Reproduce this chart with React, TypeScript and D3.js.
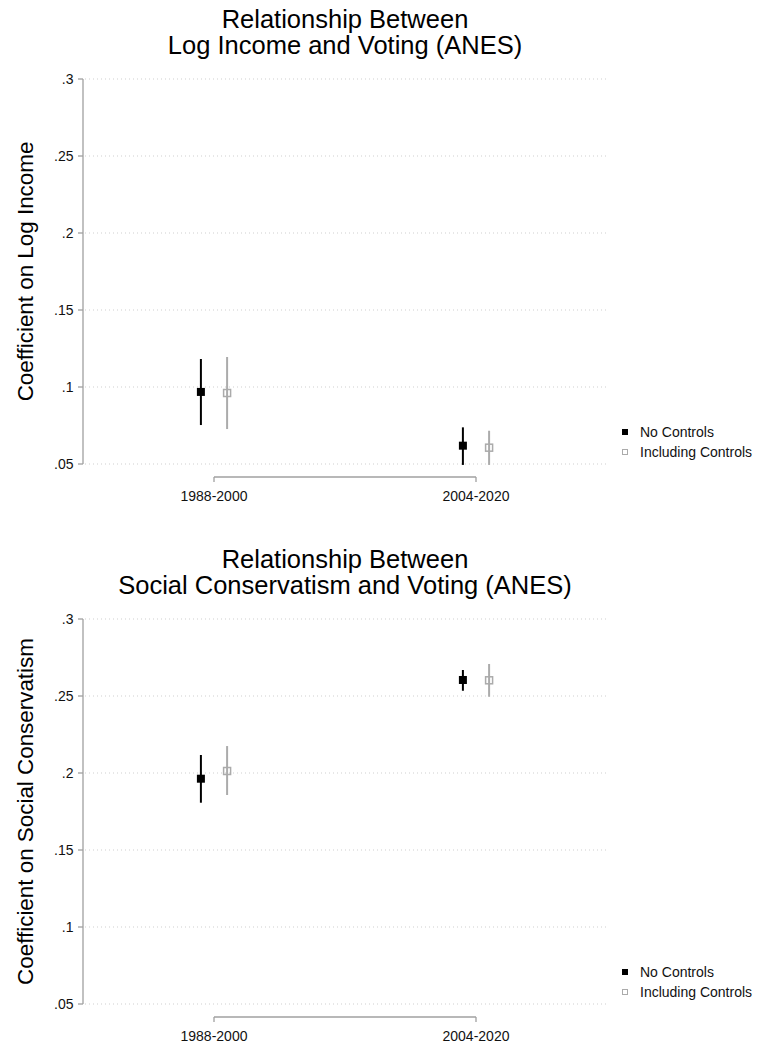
import React from 'react';
import * as d3 from 'd3';

const periods = ['1988-2000', '2004-2020'];
const seriesNames = ['No Controls', 'Including Controls'];
const yTicks = [0.05, 0.1, 0.15, 0.2, 0.25, 0.3];
const yTickLabels = ['.05', '.1', '.15', '.2', '.25', '.3'];

// Panel 1: Log income
const incomeNoCtrl = [0.0968, 0.0619];
const incomeNoCtrlLo = [0.0753, 0.0494];
const incomeNoCtrlHi = [0.1182, 0.0738];
const incomeCtrl = [0.0961, 0.0606];
const incomeCtrlLo = [0.0727, 0.0494];
const incomeCtrlHi = [0.1195, 0.0716];

// Panel 2: Social conservatism
const socialNoCtrl = [0.1963, 0.2604];
const socialNoCtrlLo = [0.1807, 0.2534];
const socialNoCtrlHi = [0.2117, 0.2669];
const socialCtrl = [0.2013, 0.2602];
const socialCtrlLo = [0.1857, 0.2495];
const socialCtrlHi = [0.2175, 0.2708];

const FONT = "'Liberation Sans', Arial, sans-serif";
const BLACK = '#000000';
const GRAY = '#ababab';

type Series = { est: number[]; lo: number[]; hi: number[] };

function Panel(props: {
  top: number;
  titleLines: string[];
  yLabel: string;
  series: Series[];
}) {
  const { top, titleLines, yLabel, series } = props;
  const x = d3.scaleLinear().domain([0.5, 2.5]).range([83, 607]);
  const y = d3.scaleLinear().domain([0.05, 0.3]).range([464, 79]);
  const offsets = [-0.05, 0.05];
  const colors = [BLACK, GRAY];
  const axisY = 477;
  const cx = (83 + 607) / 2;
  return (
    <g transform={`translate(0,${top})`}>
      {titleLines.map((t, i) => (
        <text key={i} x={cx} y={28 + i * 26} textAnchor="middle" fontSize={25.5} fontFamily={FONT} fill="#000">
          {t}
        </text>
      ))}
      {/* gridlines */}
      {yTicks.map((v, i) => (
        <line key={'g' + i} x1={85} x2={607} y1={y(v)} y2={y(v)} stroke="#cfcfcf" strokeWidth={1} strokeDasharray="1 3" />
      ))}
      {/* y axis */}
      <line x1={83} x2={83} y1={y(0.3)} y2={y(0.05)} stroke="#a0a0a0" strokeWidth={1.3} />
      {yTicks.map((v, i) => (
        <g key={'t' + i}>
          <line x1={78} x2={83} y1={y(v)} y2={y(v)} stroke="#a0a0a0" strokeWidth={1.3} />
          <text x={73.5} y={y(v) + 5} textAnchor="end" fontSize={14} fontFamily={FONT} fill="#111">
            {yTickLabels[i]}
          </text>
        </g>
      ))}
      <text
        transform={`translate(33,${(y(0.3) + y(0.05)) / 2}) rotate(-90)`}
        textAnchor="middle"
        fontSize={22.4}
        fontFamily={FONT}
        fill="#000"
      >
        {yLabel}
      </text>
      {/* x axis bracket */}
      <line x1={x(1)} x2={x(2)} y1={axisY} y2={axisY} stroke="#a0a0a0" strokeWidth={1.3} />
      {periods.map((p, i) => (
        <g key={'x' + i}>
          <line x1={x(i + 1)} x2={x(i + 1)} y1={axisY} y2={axisY + 5} stroke="#a0a0a0" strokeWidth={1.3} />
          <text x={x(i + 1)} y={axisY + 24} textAnchor="middle" fontSize={14} fontFamily={FONT} fill="#111">
            {p}
          </text>
        </g>
      ))}
      {/* CIs and points */}
      {series.map((s, si) =>
        s.est.map((v, i) => {
          const px = x(i + 1 + offsets[si]);
          return (
            <g key={`s${si}-${i}`}>
              <line x1={px} x2={px} y1={y(s.lo[i])} y2={y(s.hi[i])} stroke={colors[si]} strokeWidth={2} />
              {si === 0 ? (
                <rect x={px - 4} y={y(v) - 4} width={8} height={8} fill={BLACK} />
              ) : (
                <rect x={px - 3.5} y={y(v) - 3.5} width={7} height={7} fill="none" stroke={GRAY} strokeWidth={1.5} />
              )}
            </g>
          );
        })
      )}
      {/* legend */}
      {seriesNames.map((n, i) => (
        <g key={'l' + i}>
          {i === 0 ? (
            <rect x={622} y={429 + i * 20} width={6} height={6} fill={BLACK} />
          ) : (
            <rect x={622.5} y={429.5 + i * 20} width={5} height={5} fill="none" stroke={GRAY} strokeWidth={1} />
          )}
          <text x={640} y={437 + i * 20} fontSize={14} fontFamily={FONT} fill="#111">
            {n}
          </text>
        </g>
      ))}
    </g>
  );
}

export default function App() {
  const incomeSeries: Series[] = [
    { est: incomeNoCtrl, lo: incomeNoCtrlLo, hi: incomeNoCtrlHi },
    { est: incomeCtrl, lo: incomeCtrlLo, hi: incomeCtrlHi },
  ];
  const socialSeries: Series[] = [
    { est: socialNoCtrl, lo: socialNoCtrlLo, hi: socialNoCtrlHi },
    { est: socialCtrl, lo: socialCtrlLo, hi: socialCtrlHi },
  ];
  return (
    <div style={{ position: 'absolute', left: 0, top: 0 }}>
      <svg width={761} height={1046} style={{ display: 'block', background: '#fff' }}>
        <rect width={761} height={1046} fill="#fff" />
        <Panel
          top={0}
          titleLines={['Relationship Between', 'Log Income and Voting (ANES)']}
          yLabel="Coefficient on Log Income"
          series={incomeSeries}
        />
        <Panel
          top={540}
          titleLines={['Relationship Between', 'Social Conservatism and Voting (ANES)']}
          yLabel="Coefficient on Social Conservatism"
          series={socialSeries}
        />
      </svg>
    </div>
  );
}
